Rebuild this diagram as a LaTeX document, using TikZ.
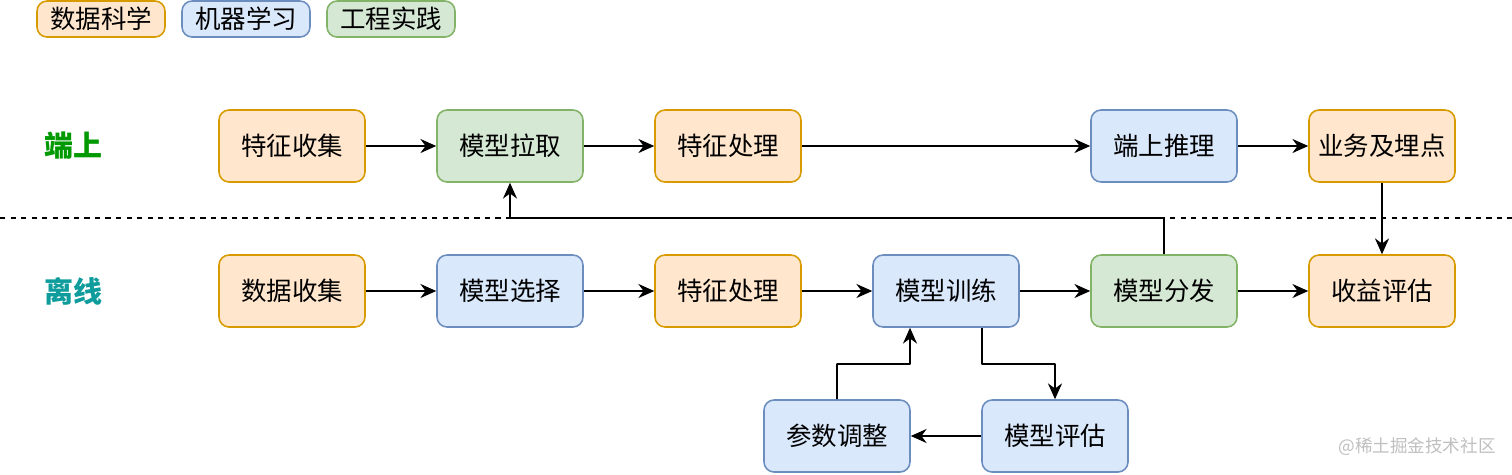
\documentclass[tikz,border=0pt]{standalone}
\usepackage{fontspec}
\setmainfont{Noto Sans CJK SC}
\usetikzlibrary{arrows.meta}
\definecolor{dsfill}{HTML}{FFE6CC} \definecolor{dsdraw}{HTML}{D79B00}
\definecolor{mlfill}{HTML}{DAE8FC} \definecolor{mldraw}{HTML}{6C8EBF}
\definecolor{gcfill}{HTML}{D5E8D4} \definecolor{gcdraw}{HTML}{82B366}
\definecolor{duanc}{HTML}{009900} \definecolor{lixc}{HTML}{0E9C9C}
\begin{document}
\begin{tikzpicture}[x=0.02cm, y=-0.02cm, font=\fontsize{14.5}{16}\selectfont, line join=round, >={Stealth[length=9pt,width=8pt]},
	box/.style={rounded corners=0.2cm, line width=0.9pt, minimum width=2.92cm, minimum height=1.44cm, inner sep=0pt},
	ds/.style={box, fill=dsfill, draw=dsdraw},
	ml/.style={box, fill=mlfill, draw=mldraw},
	gc/.style={box, fill=gcfill, draw=gcdraw},
	tag/.style={minimum width=2.56cm, minimum height=0.72cm},
	lane/.style={font=\fontsize{16.5}{18}\selectfont\bfseries},
	link/.style={->, line width=1pt}]
	\useasboundingbox (0,0) rectangle (1512,474);
	% legend
	\node[ds, tag] (lgds) at (101,19) {数据科学};
	\node[ml, tag] (lgml) at (246,19) {机器学习};
	\node[gc, tag] (lggc) at (391,19) {工程实践};
	% lanes
	\node[lane, text=duanc] (duan) at (73,146) {端上};
	\node[lane, text=lixc] (lix) at (73,291) {离线};
	\draw[dashed, line width=0.9pt] (0,218) -- (1512,218);
	% on device
	\def\yt{146}
	\node[ds] (tzsj) at (292,\yt) {特征收集};
	\node[gc] (mxlq) at (510,\yt) {模型拉取};
	\node[ds] (tzcl) at (728,\yt) {特征处理};
	\node[ml] (dstl) at (1164,\yt) {端上推理};
	\node[ds] (ywmd) at (1382,\yt) {业务及埋点};
	% offline
	\def\yb{291}
	\node[ds] (sjsj) at (292,\yb) {数据收集};
	\node[ml] (mxxz) at (510,\yb) {模型选择};
	\node[ds] (tzclb) at (728,\yb) {特征处理};
	\node[ml] (mxxl) at (946,\yb) {模型训练};
	\node[gc] (mxff) at (1164,\yb) {模型分发};
	\node[ds] (sypg) at (1382,\yb) {收益评估};
	\node[ml] (cstz) at (837,436) {参数调整};
	\node[ml] (mxpg) at (1055,436) {模型评估};
	% flows
	\foreach \a/\b in {tzsj/mxlq, mxlq/tzcl, tzcl/dstl, dstl/ywmd, sjsj/mxxz, mxxz/tzclb, tzclb/mxxl, mxxl/mxff, mxff/sypg, mxpg/cstz}
		\draw[link] (\a) -- (\b);
	\draw[link] (ywmd) -- (sypg);
	\draw[link] (mxff.north) |- (510,218) -- (mxlq.south);
	\draw[link] ([xshift=0.72cm]mxxl.south) |- (1055,364) -- (mxpg.north);
	\draw[link] (cstz.north) |- (910,364) -- ([xshift=-0.72cm]mxxl.south);
	% watermark
	\node[text=black!25, font=\fontsize{10}{12}\selectfont] (wm) at (1417,447) {@稀土掘金技术社区};
\end{tikzpicture}
\end{document}
